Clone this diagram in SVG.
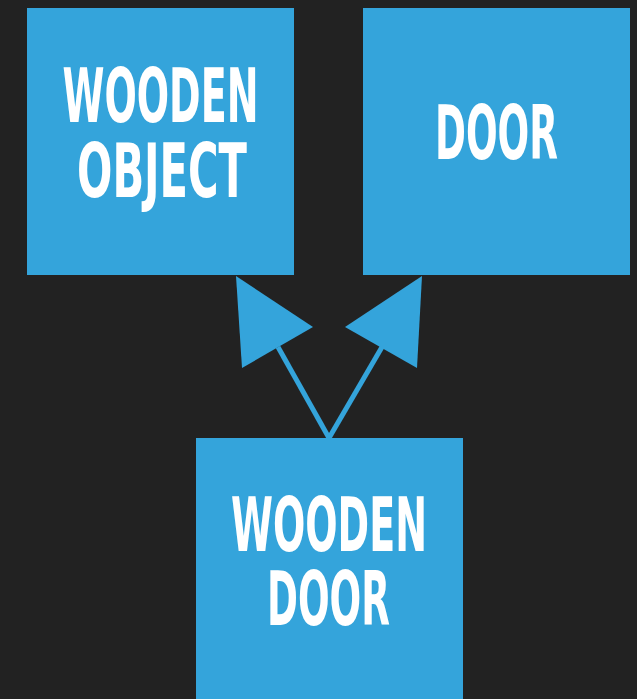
<svg xmlns="http://www.w3.org/2000/svg" width="637" height="699" viewBox="0 0 637 699">
<style>
.box{fill:#34a4db}
.lbl{fill:#ffffff;font-family:"DejaVu Sans Condensed","Liberation Sans",sans-serif;font-weight:bold;font-size:74px;text-anchor:middle}
.conn{stroke:#34a4db;stroke-width:5;fill:none}
.head{fill:#34a4db}
</style>
<rect width="637" height="699" fill="#222222"/>
<g id="wooden-object">
<rect class="box" x="27" y="8" width="267" height="267"/>
<text class="lbl" x="160.5" y="122" textLength="196" lengthAdjust="spacingAndGlyphs">WOODEN</text>
<text class="lbl" x="162" y="197" textLength="170" lengthAdjust="spacingAndGlyphs">OBJECT</text>
</g>
<g id="door">
<rect class="box" x="363" y="8" width="267" height="267"/>
<text class="lbl" x="496.5" y="159" textLength="123" lengthAdjust="spacingAndGlyphs">DOOR</text>
</g>
<g id="wooden-door">
<rect class="box" x="196" y="438" width="267" height="267"/>
<text class="lbl" x="329" y="551" textLength="196" lengthAdjust="spacingAndGlyphs">WOODEN</text>
<text class="lbl" x="328.5" y="625" textLength="123" lengthAdjust="spacingAndGlyphs">DOOR</text>
</g>
<g id="connectors">
<line class="conn" x1="329" y1="438" x2="278" y2="347"/>
<line class="conn" x1="329" y1="438" x2="382" y2="347"/>
<polygon class="head" points="236,276 313,327 242,368"/>
<polygon class="head" points="422,276 345,327 417,368"/>
</g>
</svg>
